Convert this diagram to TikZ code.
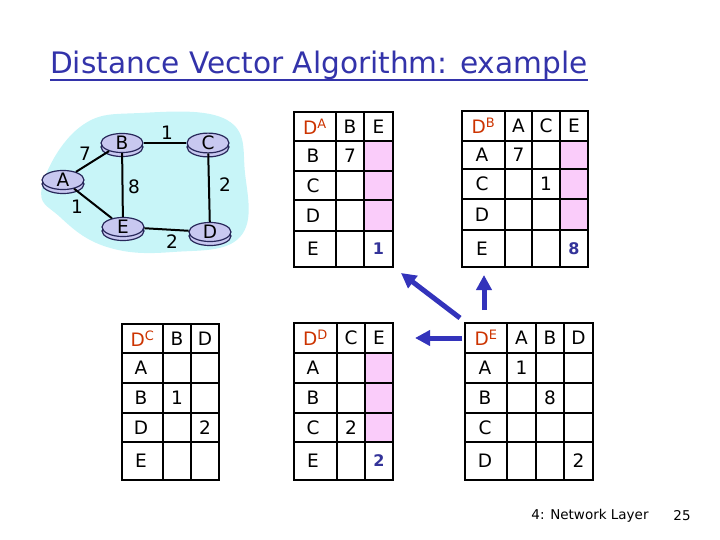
\documentclass[tikz,border=0pt]{standalone}
\usepackage{fontspec}
\setmainfont{DejaVu Sans}
\usepackage{xcolor}
\usetikzlibrary{arrows.meta,positioning,shapes.geometric,shadows}

\definecolor{TitleBlue}{RGB}{51,51,170}
\definecolor{HeadRed}{RGB}{204,51,0}
\definecolor{CellPink}{RGB}{250,204,250}
\definecolor{Cloud}{RGB}{200,245,248}
\definecolor{RouterFill}{RGB}{200,200,240}
\definecolor{RouterLine}{RGB}{40,40,90}
\definecolor{NumBlue}{RGB}{51,51,153}
\definecolor{ArrowBlue}{RGB}{51,51,187}

\tikzset{
  tab/.style={line width=2.8pt, line cap=rect, line join=miter},
  router/.style={ellipse, draw=RouterLine, fill=RouterFill, line width=1.2pt,
    minimum width=42pt, minimum height=16pt,
    copy shadow={shadow xshift=0pt, shadow yshift=-4pt}},
  link/.style={line width=2pt},
  hd/.style={text=HeadRed},
  val/.style={text=NumBlue, font=\fontsize{16}{18}\selectfont\bfseries},
  vecarrow/.style={ArrowBlue, line width=5pt, -{Triangle[length=15pt,width=15pt]}},
  foot/.style={font=\fontsize{13.5}{15}\selectfont}
}

\begin{document}
\begin{tikzpicture}[x=1pt, y=-1pt, every node/.style={font=\fontsize{18.5}{20}\selectfont, inner sep=0pt}, >=Latex]
\useasboundingbox (0,0) rectangle (720,540);

% title
\node[anchor=base west, text=TitleBlue, font=\fontsize{29.6}{32}\selectfont] (title) at (50,74) {Distance Vector Algorithm: example};
\draw[TitleBlue, line width=2pt] ([yshift=-6pt]title.base west) -- ([yshift=-6pt]title.base east);

% network
\fill[Cloud] plot[smooth cycle, tension=0.7] coordinates {(42,187) (80,127) (140,113) (227,120) (245,173) (240,237) (173,252) (107,247) (60,217)};
\node[router] (A) at (63,180) {A};
\node[router] (B) at (122,143) {B};
\node[router] (C) at (208,143) {C};
\node[router] (E) at (123,227) {E};
\node[router] (D) at (210,232) {D};
\draw[link] (A) -- (B);
\draw[link] (A) -- (E);
\draw[link] (B) -- (C);
\draw[link] (B) -- (E);
\draw[link] (C) -- (D);
\draw[link] (E) -- (D);
\node (wAB) at (85,154) {7};
\node (wAE) at (77,207) {1};
\node (wBC) at (167,133) {1};
\node (wBE) at (134,187) {8};
\node (wCD) at (225,185) {2};
\node (wED) at (172,242) {2};

% table of A
\fill[CellPink] (364,141) rectangle (393,231);
\draw[tab] (294,112) rectangle (393,267);
\draw[tab] (336,112) -- (336,267);
\draw[tab] (364,112) -- (364,267);
\draw[tab] (294,141) -- (393,141);
\draw[tab] (294,171) -- (393,171);
\draw[tab] (294,200) -- (393,200);
\draw[tab] (294,231) -- (393,231);
\node[hd] (dA) at (315,126.5) {D\textsuperscript{A}};
\node (dA-cB) at (350,126.5) {B};
\node (dA-cE) at (378.5,126.5) {E};
\node (dA-rB) at (313,156) {B};
\node (dA-rC) at (313,185.5) {C};
\node (dA-rD) at (313,215.5) {D};
\node (dA-rE) at (313,249) {E};
\node (dA-BB) at (350,156) {7};
\node[val] (dA-EE) at (378.5,249) {1};

% table of B
\fill[CellPink] (560,141) rectangle (588,230);
\draw[tab] (462,111) rectangle (588,267);
\draw[tab] (505,111) -- (505,267);
\draw[tab] (532,111) -- (532,267);
\draw[tab] (560,111) -- (560,267);
\draw[tab] (462,141) -- (588,141);
\draw[tab] (462,169) -- (588,169);
\draw[tab] (462,199) -- (588,199);
\draw[tab] (462,230) -- (588,230);
\node[hd] (dB) at (483.5,126) {D\textsuperscript{B}};
\node (dB-cA) at (518.5,126) {A};
\node (dB-cC) at (546,126) {C};
\node (dB-cE) at (574,126) {E};
\node (dB-rA) at (482,155) {A};
\node (dB-rC) at (482,184) {C};
\node (dB-rD) at (482,214.5) {D};
\node (dB-rE) at (482,248.5) {E};
\node (dB-AA) at (518.5,155) {7};
\node (dB-CC) at (546,184) {1};
\node[val] (dB-EE) at (574,248.5) {8};

% table of C
\draw[tab] (122,324) rectangle (219,480);
\draw[tab] (163,324) -- (163,480);
\draw[tab] (191,324) -- (191,480);
\draw[tab] (122,353) -- (219,353);
\draw[tab] (122,383) -- (219,383);
\draw[tab] (122,413) -- (219,413);
\draw[tab] (122,442) -- (219,442);
\node[hd] (dC) at (142.5,338.5) {D\textsuperscript{C}};
\node (dC-cB) at (177,338.5) {B};
\node (dC-cD) at (205,338.5) {D};
\node (dC-rA) at (141,368) {A};
\node (dC-rB) at (141,398) {B};
\node (dC-rD) at (141,427.5) {D};
\node (dC-rE) at (141,461) {E};
\node (dC-BB) at (177,398) {1};
\node (dC-DD) at (205,427.5) {2};

% table of D
\fill[CellPink] (365,353) rectangle (393,442);
\draw[tab] (294,323) rectangle (393,480);
\draw[tab] (337,323) -- (337,480);
\draw[tab] (365,323) -- (365,480);
\draw[tab] (294,353) -- (393,353);
\draw[tab] (294,383) -- (393,383);
\draw[tab] (294,413) -- (393,413);
\draw[tab] (294,442) -- (393,442);
\node[hd] (dD) at (315.5,338) {D\textsuperscript{D}};
\node (dD-cC) at (351,338) {C};
\node (dD-cE) at (379,338) {E};
\node (dD-rA) at (313,368) {A};
\node (dD-rB) at (313,398) {B};
\node (dD-rC) at (313,427.5) {C};
\node (dD-rE) at (313,461) {E};
\node (dD-CC) at (351,427.5) {2};
\node[val] (dD-EE) at (379,461) {2};

% table of E
\draw[tab] (465,323) rectangle (593,480);
\draw[tab] (507,323) -- (507,480);
\draw[tab] (536,323) -- (536,480);
\draw[tab] (564,323) -- (564,480);
\draw[tab] (465,353) -- (593,353);
\draw[tab] (465,383) -- (593,383);
\draw[tab] (465,413) -- (593,413);
\draw[tab] (465,442) -- (593,442);
\node[hd] (dE) at (486,338) {D\textsuperscript{E}};
\node (dE-cA) at (521.5,338) {A};
\node (dE-cB) at (550,338) {B};
\node (dE-cD) at (578.5,338) {D};
\node (dE-rA) at (485,368) {A};
\node (dE-rB) at (485,398) {B};
\node (dE-rC) at (485,427.5) {C};
\node (dE-rD) at (485,461) {D};
\node (dE-AA) at (521.5,368) {1};
\node (dE-BB) at (550,398) {8};
\node (dE-DD) at (578.5,461) {2};

% E sends its vector to A, B and D
\coordinate (toA0) at (460,318);
\coordinate (toA1) at (401,273);
\coordinate (toB0) at (484,310);
\coordinate (toB1) at (484,275);
\coordinate (toD0) at (462,338);
\coordinate (toD1) at (415,338);
\draw[vecarrow] (toA0) -- (toA1);
\draw[vecarrow] (toB0) -- (toB1);
\draw[vecarrow] (toD0) -- (toD1);

% footer
\node[foot] (chap) at (590,516) {4: Network Layer};
\node[foot] (page) at (682,516) {25};
\end{tikzpicture}
\end{document}
